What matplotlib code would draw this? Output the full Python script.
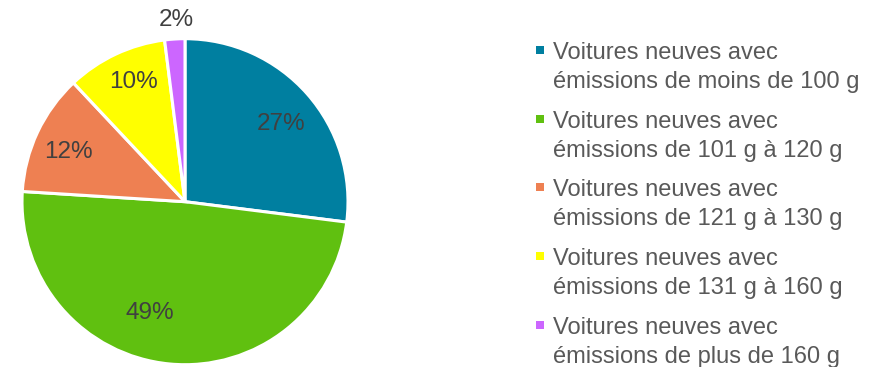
import matplotlib.pyplot as plt
from matplotlib.patches import Rectangle

plt.rcParams['font.family'] = ['Liberation Sans', 'DejaVu Sans']

# parts of new cars by CO2 emission class (%)
labels = ['Voitures neuves avec\némissions de moins de 100 g',
          'Voitures neuves avec\némissions de 101 g à 120 g',
          'Voitures neuves avec\némissions de 121 g à 130 g',
          'Voitures neuves avec\némissions de 131 g à 160 g',
          'Voitures neuves avec\némissions de plus de 160 g']
shares = [27, 49, 12, 10, 2]
colors = ['#007FA0', '#60C010', '#EE8052', '#FFFF00', '#CC66FF']

# where each percentage sits, in pie radius units
label_pos = [(0.592, 0.477), (-0.215, -0.683), (-0.718, 0.305),
             (-0.319, 0.734), (-0.052, 1.115)]

W, H = 883, 367
fig = plt.figure(figsize=(W / 100, H / 100), dpi=100)

cx, cy, r = 185, 201.7, 163
ax = fig.add_axes([(cx - r) / W, (H - cy - r) / H, 2 * r / W, 2 * r / H])
wedges, texts, autotexts = ax.pie(
    shares, colors=colors, startangle=90, counterclock=False, radius=1,
    autopct='%d%%', pctdistance=0.7,
    wedgeprops=dict(edgecolor='white', linewidth=2.2),
    textprops=dict(fontsize=17.5, color='#404040'))
for t, pos in zip(autotexts, label_pos):
    t.set_position(pos)
    t.set_ha('center')
    t.set_va('center')
ax.set_xlim(-1, 1)
ax.set_ylim(-1, 1)
ax.set_aspect('equal')
ax.axis('off')

# legend drawn by hand, one two-line entry per class
for i, (lab, col) in enumerate(zip(labels, colors)):
    base = 59 + 68.7 * i
    fig.patches.append(Rectangle((536 / W, 1 - (base - 5) / H), 8 / W, 8 / H,
                                 transform=fig.transFigure, facecolor=col,
                                 edgecolor='none'))
    for j, line in enumerate(lab.split('\n')):
        fig.text(553 / W, 1 - (base + 29 * j) / H, line, fontsize=17,
                 color='#595959', ha='left', va='baseline')

fig.savefig('out.png', dpi=100)
